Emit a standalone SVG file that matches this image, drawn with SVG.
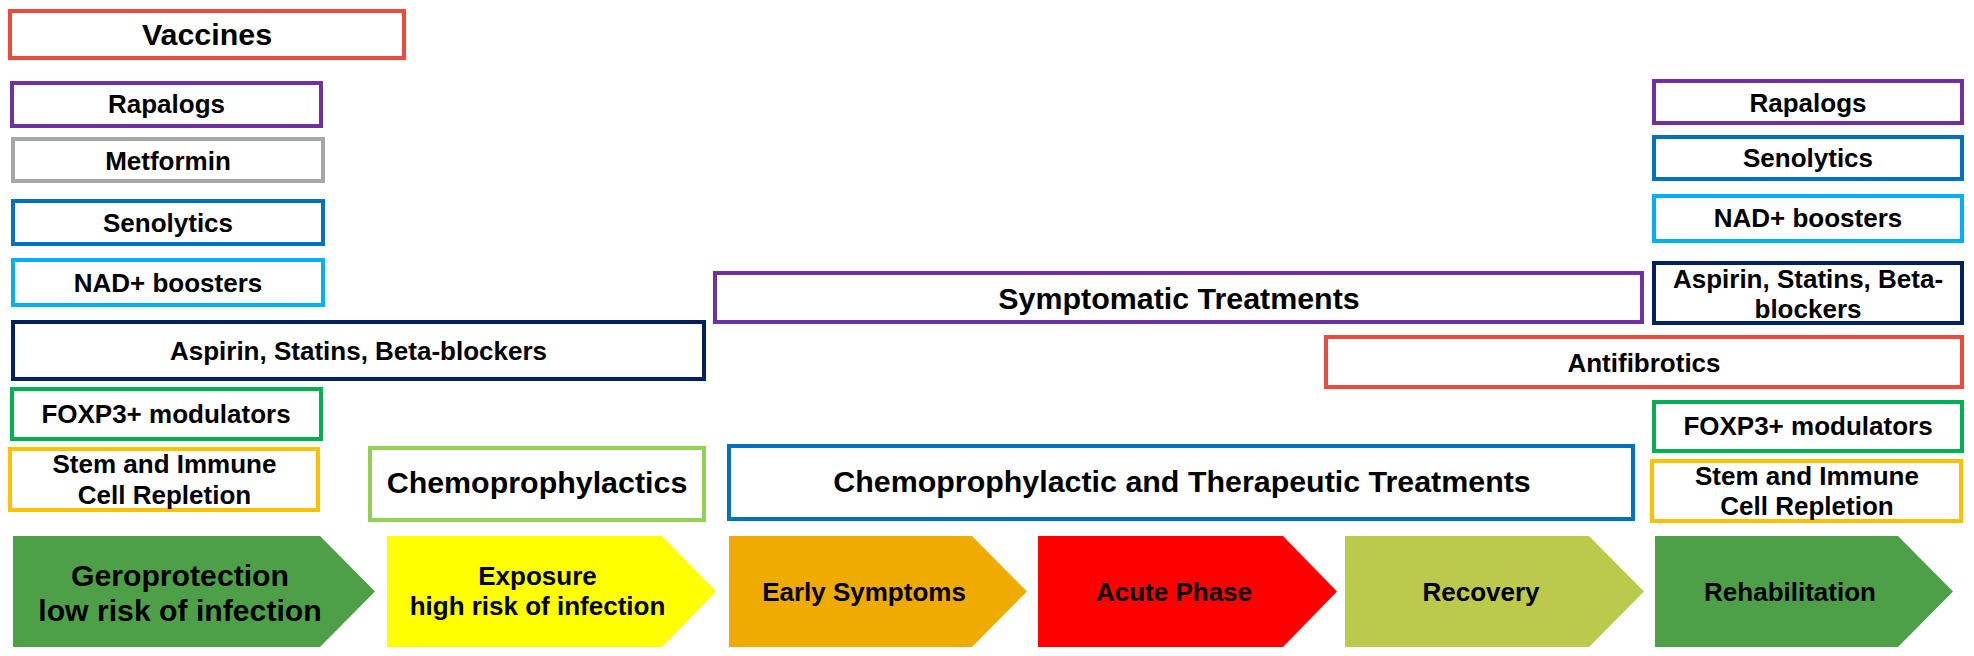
<svg xmlns="http://www.w3.org/2000/svg" width="1974" height="656" viewBox="0 0 1974 656">
<style>
.b{fill:#fff;stroke-width:4}
.t{font-family:"Liberation Sans",Arial,sans-serif;font-weight:bold;fill:#000;text-anchor:middle}
.s26{font-size:26px}
.s30{font-size:30.4px}
.red{stroke:#E94C3D}.pur{stroke:#7030A0}.gry{stroke:#A6A6A6}.blu{stroke:#0070C0}.lbl{stroke:#00B0F0}.nav{stroke:#002060}.grn{stroke:#00B050}.org{stroke:#FFC000}.lgr{stroke:#92D050}
</style>
<rect width="1974" height="656" fill="#fff"/>
<g id="vaccines"><rect class="b red" x="10" y="11" width="394" height="47"/><text class="t s30" x="207" y="45">Vaccines</text></g>
<g id="rapalogs-left"><rect class="b pur" x="12" y="83" width="309" height="43"/><text class="t s26" x="166.5" y="113">Rapalogs</text></g>
<g id="metformin"><rect class="b gry" x="13" y="139" width="310" height="42"/><text class="t s26" x="168" y="170">Metformin</text></g>
<g id="senolytics-left"><rect class="b blu" x="13" y="201" width="310" height="43"/><text class="t s26" x="168" y="231.5">Senolytics</text></g>
<g id="nad-left"><rect class="b lbl" x="13" y="260" width="310" height="45"/><text class="t s26" x="168" y="291.5">NAD+ boosters</text></g>
<g id="aspirin-left"><rect class="b nav" x="13" y="322" width="691" height="57"/><text class="t s26" x="358.5" y="360">Aspirin, Statins, Beta-blockers</text></g>
<g id="foxp3-left"><rect class="b grn" x="12" y="389" width="309" height="50"/><text class="t s26" x="166" y="423">FOXP3+ modulators</text></g>
<g id="stem-left"><rect class="b org" x="10" y="449" width="308" height="61"/><text class="t s26" x="164.5" y="473">Stem and Immune</text><text class="t s26" x="164.5" y="504">Cell Repletion</text></g>
<g id="chemoprophylactics"><rect class="b lgr" x="370" y="448" width="334" height="72"/><text class="t s30" x="537" y="493">Chemoprophylactics</text></g>
<g id="symptomatic"><rect class="b pur" x="715" y="273" width="927" height="49"/><text class="t s30" x="1179" y="309">Symptomatic Treatments</text></g>
<g id="chemo-therapeutic"><rect class="b blu" x="729" y="446" width="904" height="73"/><text class="t s30" x="1182" y="491.5">Chemoprophylactic and Therapeutic Treatments</text></g>
<g id="antifibrotics"><rect class="b red" x="1326" y="337" width="636" height="50"/><text class="t s26" x="1644" y="371.5">Antifibrotics</text></g>
<g id="rapalogs-right"><rect class="b pur" x="1654" y="81" width="308" height="42"/><text class="t s26" x="1808" y="111.5">Rapalogs</text></g>
<g id="senolytics-right"><rect class="b blu" x="1654" y="137" width="308" height="42"/><text class="t s26" x="1808" y="167">Senolytics</text></g>
<g id="nad-right"><rect class="b lbl" x="1654" y="196" width="308" height="45"/><text class="t s26" x="1808" y="226.5">NAD+ boosters</text></g>
<g id="aspirin-right"><rect class="b nav" x="1654" y="263" width="308" height="60"/><text class="t s26" x="1808" y="288">Aspirin, Statins, Beta-</text><text class="t s26" x="1808" y="317.5">blockers</text></g>
<g id="foxp3-right"><rect class="b grn" x="1654" y="402" width="308" height="49"/><text class="t s26" x="1808" y="435">FOXP3+ modulators</text></g>
<g id="stem-right"><rect class="b org" x="1652" y="461" width="309" height="60"/><text class="t s26" x="1807" y="484.5">Stem and Immune</text><text class="t s26" x="1807" y="514.5">Cell Repletion</text></g>
<g id="stage-geroprotection"><polygon points="13,536 320,536 375,591.5 320,647 13,647" fill="#4EA048"/><text class="t" style="font-size:30.2px" x="180" y="585.5">Geroprotection</text><text class="t" style="font-size:30.2px" x="180" y="621">low risk of infection</text></g>
<g id="stage-exposure"><polygon points="387,536 662,536 716,591.5 662,647 387,647" fill="#FFFF00"/><text class="t s26" x="537.5" y="585">Exposure</text><text class="t s26" x="537.5" y="615">high risk of infection</text></g>
<g id="stage-early"><polygon points="729,536 972,536 1027,591.5 972,647 729,647" fill="#EFAB00"/><text class="t s26" x="864" y="600.5">Early Symptoms</text></g>
<g id="stage-acute"><polygon points="1038,536 1283,536 1337,591.5 1283,647 1038,647" fill="#FF0000"/><text class="t s26" x="1174" y="600.5">Acute Phase</text></g>
<g id="stage-recovery"><polygon points="1345,536 1589,536 1644,591.5 1589,647 1345,647" fill="#BBC94D"/><text class="t s26" x="1481" y="600.5">Recovery</text></g>
<g id="stage-rehabilitation"><polygon points="1655,536 1898,536 1953,591.5 1898,647 1655,647" fill="#4EA048"/><text class="t s26" x="1790" y="600.5">Rehabilitation</text></g>
<g id="connectors"></g>
</svg>
